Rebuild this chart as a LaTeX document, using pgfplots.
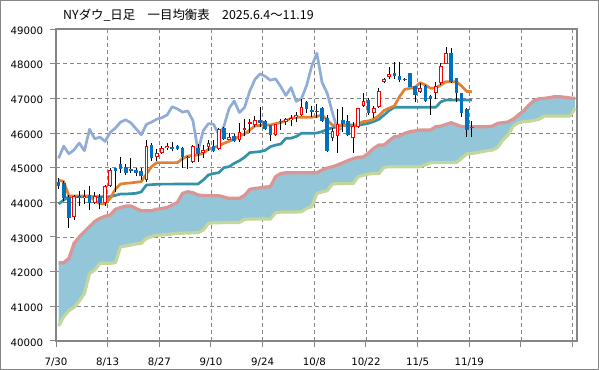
\documentclass[border=0pt]{standalone}
\usepackage{fontspec}
\setmainfont{DejaVu Sans}
\newfontfamily\jp{Noto Sans CJK JP}
\usepackage{pgfplots}
\pgfplotsset{compat=1.18}
\usepackage{pgfplotstable}
\usepgfplotslibrary{fillbetween}

\definecolor{framegray}{RGB}{134,134,134}
\definecolor{cloud}{RGB}{147,198,216}
\definecolor{spanA}{RGB}{217,150,148}
\definecolor{spanB}{RGB}{195,214,155}
\definecolor{tenkan}{RGB}{226,128,52}
\definecolor{kijun}{RGB}{52,146,168}
\definecolor{chikou}{RGB}{146,172,216}
\definecolor{downblue}{RGB}{0,112,192}
\definecolor{upred}{RGB}{255,0,0}

% daily candles: index, open, high, low, close
\pgfplotstableread{
i O H L C
0 44600 44700 44380 44461
1 44550 44620 44050 44130
2 44160 44200 43270 43560
3 43580 44200 43480 44173
4 44180 44330 43880 44111
5 44111 44350 43950 44193
6 44200 44470 43780 43968
7 43990 44300 43950 44175
8 44150 44250 43800 43975
9 43975 44500 43900 44459
10 44470 44980 44450 44922
11 44980 45000 44300 44900
12 45100 45300 44840 44950
13 45010 45100 44780 44860
14 44950 45280 44850 44890
15 44920 45000 44760 44860
16 44915 45000 44650 44750
17 44650 45800 44600 45631
18 45650 45700 45200 45282
19 45320 45550 45180 45418
20 45433 45620 45400 45565
21 45560 45700 45500 45636
22 45606 45740 45480 45545
23 45620 45660 45500 45530
24 45558 45606 44980 45296
25 45300 45330 44960 45271
26 45174 45650 45140 45621
27 45580 45680 45170 45400
28 45430 45650 45270 45514
29 45600 45800 45490 45711
30 45620 45800 45460 45490
31 45530 46135 45500 46108
32 46135 46180 45800 45834
33 45800 45990 45800 45883
34 45914 45970 45740 45757
35 45800 46280 45750 46018
36 46090 46390 45900 46142
37 46260 46390 45990 46315
38 46231 46490 46180 46381
39 46375 46740 46180 46292
40 46360 46380 46090 46121
41 46230 46230 45780 45947
42 45943 46260 45910 46247
43 46360 46400 46090 46316
44 46330 46430 46230 46398
45 46380 46520 46190 46441
46 46450 46610 46330 46519
47 46520 46990 46490 46758
48 46880 46930 46570 46695
49 46660 46780 46450 46603
50 46596 46850 46420 46635
51 46710 46760 46320 46358
52 46423 46520 45460 45480
53 45846 46135 45780 46068
54 45900 46680 45430 46270
55 46380 46740 46040 46253
56 46360 46520 45910 45952
57 45846 46330 45420 46191
58 46164 46720 46150 46707
59 46780 47140 46740 46925
60 46952 47000 46520 46590
61 46567 46780 46420 46735
62 46740 47290 46710 47207
63 47480 47580 47430 47545
64 47625 47890 47550 47706
65 47740 48060 47550 47632
66 47644 48040 47480 47522
67 47540 47600 47500 47563
68 47721 47721 47330 47337
69 47356 47356 46880 47085
70 47192 47430 47150 47311
71 47356 47390 46900 46912
72 47060 47100 46520 46987
73 47164 47480 46970 47368
74 47433 48030 47380 47928
75 47981 48490 47980 48300
76 48317 48440 47430 47457
77 47577 47590 46900 47147
78 47144 47160 46470 46590
79 46683 46710 45895 46091
80 46170 46350 45895 46138
}\candles

% leading span A (upper edge of the cloud)
\pgfplotstableread{
i v
0 42260
1 42260
2 42385
3 42818
4 43000
5 43155
6 43300
7 43450
8 43539
9 43600
10 43635
11 43800
12 43850
13 43895
14 43895
15 43820
16 43760
17 43760
18 43760
19 43800
20 43827
21 43850
22 43924
23 44000
24 44260
25 44308
26 44280
27 44212
28 44200
29 44193
30 44193
31 44193
32 44150
33 44116
34 44116
35 44116
36 44200
37 44375
38 44400
39 44420
40 44440
41 44452
42 44741
43 44830
44 44856
45 44856
46 44856
47 44856
48 44856
49 44856
50 44856
51 44933
52 44990
53 45029
54 45077
55 45140
56 45203
57 45260
58 45299
59 45310
60 45420
61 45558
62 45654
63 45654
64 45780
65 45895
66 45914
67 45990
68 46039
69 46060
70 46087
71 46087
72 46087
73 46183
74 46200
75 46250
76 46298
77 46240
78 46183
79 46183
80 46183
81 46183
82 46183
83 46183
84 46200
85 46279
86 46298
87 46320
88 46400
89 46519
90 46640
91 46800
92 46933
93 46990
94 47000
95 47020
96 47048
97 47048
98 47030
99 47010
100 47000
}\spanA

% leading span B (lower edge of the cloud)
\pgfplotstableread{
i v
0 40434
1 40700
2 40876
3 40972
4 41150
5 41376
6 41950
7 42049
8 42242
9 42242
10 42242
11 42261
12 42722
13 42740
14 42770
15 42800
16 42818
17 42960
18 43010
19 43050
20 43060
21 43075
22 43088
23 43110
24 43110
25 43115
26 43120
27 43126
28 43200
29 43395
30 43410
31 43410
32 43420
33 43420
34 43420
35 43420
36 43510
37 43520
38 43520
39 43520
40 43520
41 43520
42 43702
43 43720
44 43720
45 43720
46 43720
47 43731
48 43827
49 43875
50 44260
51 44300
52 44337
53 44529
54 44540
55 44540
56 44540
57 44540
58 44741
59 44780
60 44818
61 44830
62 44830
63 45010
64 45029
65 45029
66 45029
67 45029
68 45029
69 45029
70 45029
71 45080
72 45145
73 45145
74 45145
75 45145
76 45145
77 45145
78 45270
79 45395
80 45414
81 45433
82 45462
83 45491
84 45510
85 45587
86 45800
87 45943
88 46200
89 46298
90 46330
91 46340
92 46360
93 46400
94 46490
95 46490
96 46490
97 46490
98 46490
99 46490
100 46712
}\spanB

\begin{document}
\begin{tikzpicture}
\draw[framegray, line width=1.2bp] (0.6bp,0.6bp) rectangle (598.4bp,369.4bp);
\node[anchor=base west, inner sep=0pt] at (63bp,350bp) {\jp\fontsize{12.45}{14}\selectfont NYダウ\_日足　一目均衡表　2025.6.4～11.19};
\begin{axis}[
  at={(56bp,29bp)}, anchor=south west, scale only axis,
  width=521bp, height=312bp,
  xmin=-0.5, xmax=100.35, ymin=40000, ymax=49000,
  scaled x ticks=false, scaled y ticks=false,
  axis line style={framegray, line width=1.2bp},
  tick pos=left, tick align=outside, major tick length=6.5bp,
  tick style={framegray, line width=1bp},
  xtick={-0.5,9.5,19.5,29.5,39.5,49.5,59.5,69.5,79.5,89.5,99.5},
  xticklabels={7/30,8/13,8/27,9/10,9/24,10/8,10/22,11/5,11/19,,},
  ytick={40000,41000,42000,43000,44000,45000,46000,47000,48000,49000},
  yticklabels={40000,41000,42000,43000,44000,45000,46000,47000,48000,49000},
  ticklabel style={font=\fontsize{10.24}{12}\selectfont, inner sep=0pt},
  xticklabel style={anchor=north, yshift=-10bp},
  yticklabel style={anchor=east, xshift=-6.2bp, yshift=-1.5bp},
  grid=major,
  major grid style={framegray, line width=0.9bp, dash pattern=on 4bp off 3bp},
  line join=round,
]
% cloud
\addplot[draw=none, name path=A, forget plot] table[x=i, y=v] {\spanA};
\addplot[draw=none, name path=B, forget plot] table[x=i, y=v] {\spanB};
\addplot[cloud, draw=none] fill between[of=A and B];
\addplot[spanB, line width=3.2bp, mark=none] table[x=i, y=v] {\spanB};
\addplot[spanA, line width=3.2bp, mark=none] table[x=i, y=v] {\spanA};
% base line (kijun)
\addplot[kijun, line width=2.7bp, mark=none] coordinates {
(0,43952)(1,44068)(2,44164)(3,44164)(4,44164)(5,44164)(6,44164)(7,44164)(8,44164)(9,44164)
(10,44164)(11,44200)(12,44240)(13,44240)(14,44250)(15,44260)(16,44300)(17,44500)(18,44510)(19,44520)
(20,44525)(21,44525)(22,44525)(23,44529)(24,44529)(25,44529)(26,44529)(27,44529)(28,44645)(29,44789)
(30,44830)(31,44856)(32,45000)(33,45029)(34,45125)(35,45200)(36,45300)(37,45433)(38,45450)(39,45462)
(40,45500)(41,45606)(42,45650)(43,45683)(44,45846)(45,45850)(46,45900)(47,45991)(48,45991)(49,45991)
(50,46000)(51,46039)(52,46106)(53,46150)(54,46183)(55,46231)(56,46231)(57,46231)(58,46231)(59,46250)
(60,46280)(61,46330)(62,46395)(63,46520)(64,46650)(65,46740)(66,46740)(67,46740)(68,46740)(69,46740)
(70,46740)(71,46740)(72,46740)(73,46740)(74,46900)(75,46952)(76,46952)(77,46952)(78,46952)(79,46952)
(80,46952)};
% conversion line (tenkan)
\addplot[tenkan, line width=2.7bp, mark=none] coordinates {
(0,44645)(1,44597)(2,44184)(3,44184)(4,44184)(5,44184)(6,44184)(7,44050)(8,43960)(9,43960)
(10,44116)(11,44380)(12,44529)(13,44548)(14,44560)(15,44580)(16,44597)(17,44818)(18,45029)(19,45145)
(20,45145)(21,45145)(22,45145)(23,45145)(24,45260)(25,45337)(26,45350)(27,45366)(28,45420)(29,45529)
(30,45580)(31,45625)(32,45702)(33,45760)(34,45818)(35,45914)(36,45971)(37,46087)(38,46202)(39,46220)
(40,46231)(41,46231)(42,46270)(43,46298)(44,46356)(45,46423)(46,46452)(47,46452)(48,46452)(49,46452)
(50,46480)(51,46519)(52,46375)(53,46231)(54,46231)(55,46220)(56,46202)(57,46200)(58,46260)(59,46330)
(60,46350)(61,46400)(62,46500)(63,46650)(64,46720)(65,46780)(66,47050)(67,47260)(68,47289)(69,47320)
(70,47452)(71,47385)(72,47289)(73,47300)(74,47385)(75,47480)(76,47480)(77,47480)(78,47356)(79,47200)
(80,47192)};
% lagging span (chikou)
\addplot[chikou, line width=2.7bp, mark=none] coordinates {
(0,45271)(1,45621)(2,45400)(3,45514)(4,45711)(5,45490)(6,46108)(7,45834)(8,45883)(9,45757)
(10,46018)(11,46142)(12,46315)(13,46381)(14,46292)(15,46121)(16,45947)(17,46247)(18,46316)(19,46398)
(20,46441)(21,46519)(22,46758)(23,46695)(24,46603)(25,46635)(26,46358)(27,45480)(28,46068)(29,46270)
(30,46253)(31,45952)(32,46191)(33,46707)(34,46925)(35,46590)(36,46735)(37,47207)(38,47545)(39,47706)
(40,47632)(41,47522)(42,47563)(43,47337)(44,47085)(45,47311)(46,46912)(47,46987)(48,47368)(49,47928)
(50,48300)(51,47457)(52,47147)(53,46590)(54,46091)(55,46138)};
% candles: wick, then body (red outline with white inside when rising)
\pgfplotsinvokeforeach{0,...,80}{%
  \pgfplotstablegetelem{#1}{O}\of\candles \edef\cO{\pgfplotsretval}%
  \pgfplotstablegetelem{#1}{H}\of\candles \edef\cH{\pgfplotsretval}%
  \pgfplotstablegetelem{#1}{L}\of\candles \edef\cL{\pgfplotsretval}%
  \pgfplotstablegetelem{#1}{C}\of\candles \edef\cC{\pgfplotsretval}%
  \edef\doplot{\noexpand\addplot[black, line width=0.9bp, mark=none] coordinates {(#1,\cL) (#1,\cH)};}\doplot
  \ifnum\cC<\cO\relax
    \edef\doplot{\noexpand\addplot[downblue, line width=3.6bp, mark=none] coordinates {(#1,\cO) (#1,\cC)};}\doplot
  \else
    \edef\doplot{\noexpand\addplot[upred, line width=3.6bp, mark=none] coordinates {(#1,\cO) (#1,\cC)};}\doplot
    \ifnum\numexpr\cC-\cO\relax>58\relax
      \edef\doplot{\noexpand\addplot[white, line width=1.6bp, mark=none] coordinates {(#1,\the\numexpr\cO+29\relax) (#1,\the\numexpr\cC-29\relax)};}\doplot
    \fi
  \fi
}
\end{axis}
\pgfresetboundingbox
\path[use as bounding box] (0,0) rectangle (599bp,370bp);
\end{tikzpicture}
\end{document}
